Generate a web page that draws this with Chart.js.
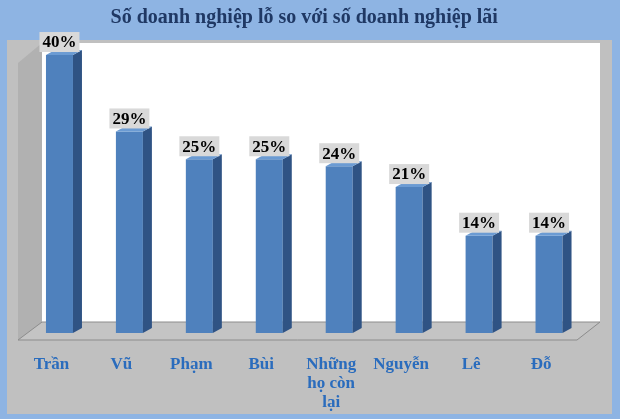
<!DOCTYPE html>
<html>
<head>
<meta charset="utf-8">
<script src="https://cdn.jsdelivr.net/npm/chart.js@4/dist/chart.umd.min.js"></script>
<style>
  body { margin: 0; background: #8eb4e3; }
  canvas { display: block; }
</style>
</head>
<body>
<canvas id="chart" width="620" height="419"></canvas>
<script>
const titleText = 'Số doanh nghiệp lỗ so với số doanh nghiệp lãi';
const categories = ['Trần', 'Vũ', 'Phạm', 'Bùi', ['Những', 'họ còn', 'lại'], 'Nguyễn', 'Lê', 'Đỗ'];
const shares = [40, 29, 25, 25, 24, 21, 14, 14];

const serif = '"Liberation Serif", "DejaVu Serif", serif';
const depthX = 9, depthY = 5;

// fake 3D look: panel, walls, floor, bar sides and the value boxes
const scene3d = {
    id: 'scene3d',
    beforeDraw(chart) {
        const {ctx, chartArea: a} = chart;
        ctx.save();
        ctx.fillStyle = '#8eb4e3';
        ctx.fillRect(0, 0, chart.width, chart.height);
        ctx.fillStyle = '#c0c0c0';
        ctx.fillRect(7, 40, 605, 374);

        const frontLeft = a.left - 6.5, backLeft = a.left + 17.5;
        const frontRight = a.right - 7, backRight = a.right + 16;
        const backBottom = a.bottom - 11, frontBottom = a.bottom + 7;
        const wallTop = 43;

        // back wall
        ctx.fillStyle = '#ffffff';
        ctx.fillRect(backLeft, wallTop, backRight - backLeft, backBottom - wallTop);

        // left side wall
        ctx.fillStyle = '#b1b1b1';
        ctx.beginPath();
        ctx.moveTo(backLeft, wallTop);
        ctx.lineTo(backLeft, backBottom);
        ctx.lineTo(frontLeft, frontBottom);
        ctx.lineTo(frontLeft, wallTop + 20);
        ctx.closePath();
        ctx.fill();

        // floor
        ctx.fillStyle = '#c4c4c4';
        ctx.strokeStyle = '#8c8c8c';
        ctx.lineWidth = 1;
        ctx.beginPath();
        ctx.moveTo(backLeft, backBottom);
        ctx.lineTo(backRight, backBottom);
        ctx.lineTo(frontRight, frontBottom);
        ctx.lineTo(frontLeft, frontBottom);
        ctx.closePath();
        ctx.fill();
        ctx.stroke();
        ctx.restore();
    },
    afterDatasetsDraw(chart) {
        const {ctx} = chart;
        const meta = chart.getDatasetMeta(0);
        ctx.save();
        meta.data.forEach((bar, i) => {
            const {x, y, base, width} = bar.getProps(['x', 'y', 'base', 'width'], true);
            const l = x - width / 2, r = x + width / 2;

            ctx.fillStyle = '#2f5384';
            ctx.beginPath();
            ctx.moveTo(r, y);
            ctx.lineTo(r + depthX, y - depthY);
            ctx.lineTo(r + depthX, base - depthY);
            ctx.lineTo(r, base);
            ctx.closePath();
            ctx.fill();

            ctx.fillStyle = '#6b9bd3';
            ctx.beginPath();
            ctx.moveTo(l, y);
            ctx.lineTo(r, y);
            ctx.lineTo(r + depthX, y - depthY);
            ctx.lineTo(l + depthX, y - depthY);
            ctx.closePath();
            ctx.fill();

            const label = shares[i] + '%';
            ctx.font = 'bold 17px ' + serif;
            const tw = ctx.measureText(label).width;
            const bw = tw + 6, bh = 20;
            ctx.fillStyle = '#d9d9d9';
            ctx.fillRect(x - bw / 2, y - 3 - bh, bw, bh);
            ctx.fillStyle = '#000000';
            ctx.textAlign = 'center';
            ctx.textBaseline = 'middle';
            ctx.fillText(label, x, y - 3 - bh / 2 + 1);
        });
        ctx.restore();
    }
};

new Chart('chart', {
    type: 'bar',
    data: {
        labels: categories,
        datasets: [{
            data: shares,
            backgroundColor: '#4f81bd',
            borderWidth: 0,
            barPercentage: 0.386,
            categoryPercentage: 1
        }]
    },
    options: {
        responsive: false,
        animation: false,
        devicePixelRatio: 1,
        layout: {
            padding: {left: 24.5, right: 36, top: 0, bottom: 0}
        },
        plugins: {
            legend: {display: false},
            tooltip: {enabled: false},
            title: {
                display: true,
                text: titleText,
                color: '#1f3864',
                font: {family: serif, size: 20, weight: 'bold'},
                padding: {top: 6, bottom: 0}
            }
        },
        scales: {
            x: {
                grid: {display: false, drawTicks: false},
                border: {display: false},
                ticks: {
                    color: '#2a6cbd',
                    font: {family: serif, size: 17, weight: 'bold', lineHeight: 1.1},
                    padding: 22.6,
                    labelOffset: -8,
                    maxRotation: 0,
                    autoSkip: false
                },
                afterFit(scale) { scale.height = 86; }
            },
            y: {
                display: false,
                min: 0,
                max: 43.6
            }
        }
    },
    plugins: [scene3d]
});
</script>
</body>
</html>
